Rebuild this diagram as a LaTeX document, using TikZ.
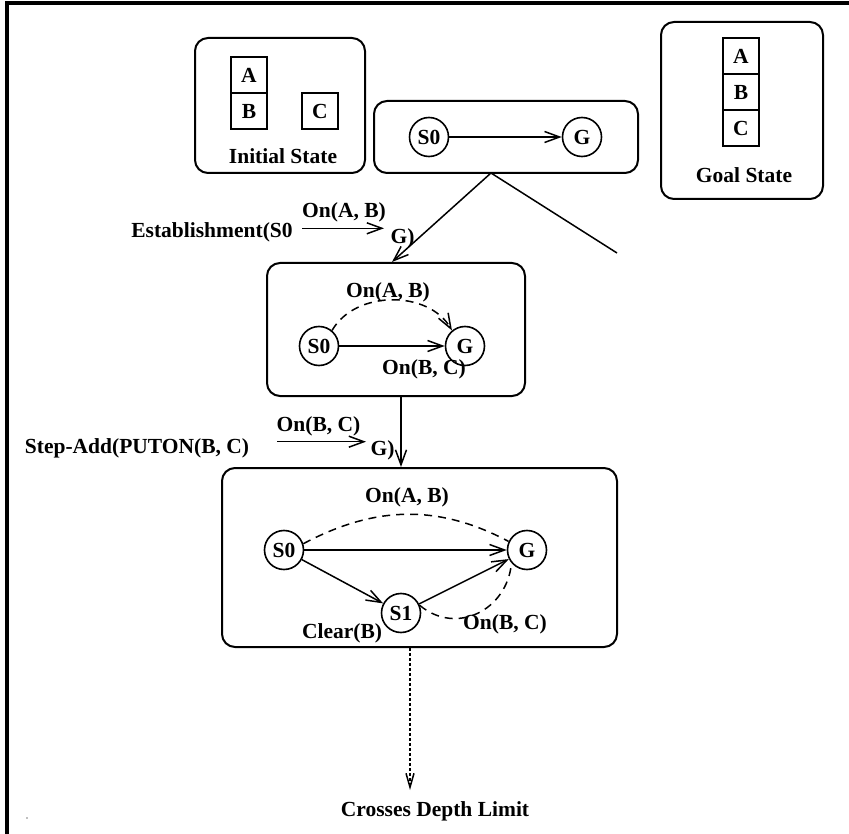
\documentclass[tikz,border=0pt]{standalone}
\usepackage{fontspec}
\setmainfont{Liberation Serif}
\usetikzlibrary{arrows.meta}
\begin{document}
\begin{tikzpicture}[x=1pt,y=1pt,
  every node/.style={font=\fontsize{21.5}{25}\selectfont\bfseries, inner sep=0pt},
  panel/.style={draw, rounded corners=13pt, line width=2pt},
  block/.style={draw, line width=1.6pt, minimum width=36pt, minimum height=36pt},
  state/.style={draw, circle, line width=1.6pt, minimum size=39pt},
  wire/.style={line width=1.5pt},
  headed/.style={wire, -{Straight Barb[length=15pt,width=11pt,line width=1.5pt]}},
  hint/.style={dash pattern=on 8pt off 6pt},
  faint/.style={dash pattern=on 2.5pt off 2.5pt}
]
\useasboundingbox (0,0) rectangle (849,-834);

% page frame: left and top rules
\draw[line width=3.4pt] (7,-834) -- (7,-3) -- (849,-3);
\fill[gray] (27,-818) circle (0.8pt);

% ---- initial state ----
\node[panel, minimum width=170pt, minimum height=135pt] (init) at (280,-105.5) {};
\node[block] (ia) at (249,-75) {A};
\node[block] (ib) at (249,-111) {B};
\node[block] (ic) at (320,-111) {C};
\node (initlbl) at (283,-156) {Initial State};

% ---- goal state ----
\node[panel, minimum width=162pt, minimum height=177pt] (goal) at (742,-110.5) {};
\node[block] (ga) at (741,-56) {A};
\node[block] (gb) at (741,-92) {B};
\node[block] (gc) at (741,-128) {C};
\node (goallbl) at (744,-175) {Goal State};

% ---- root plan ----
\node[panel, minimum width=264pt, minimum height=72pt] (p0) at (506,-137) {};
\node[state] (p0s) at (429,-137) {S0};
\node[state] (p0g) at (582,-137) {G};
\draw[headed] (p0s) -- (p0g);

% ---- plan after establishment ----
\node[panel, minimum width=258pt, minimum height=133pt] (p1) at (396,-329.5) {};
\node[state] (p1s) at (319,-346) {S0};
\node[state] (p1g) at (465,-346) {G};
\draw[headed] (p1s) -- (p1g);
\draw[headed, hint] (p1s.50) to[out=60, in=120] (p1g.130);
\node (p1ab) at (388,-292) {On(A, B)};
\node (p1bc) at (424,-369) {On(B, C)};

% ---- plan after step addition ----
\node[panel, minimum width=395pt, minimum height=179pt] (p2) at (419.5,-557.5) {};
\node[state] (p2s) at (284,-550) {S0};
\node[state] (p2g) at (527,-550) {G};
\node[state] (p2t) at (401,-613) {S1};
\draw[headed] (p2s) -- (p2g);
\draw[headed] (p2s) -- (p2t);
\draw[headed] (p2t) -- (p2g);
\draw[wire, hint] (p2s.18) to[out=28, in=152] (p2g.155);
\draw[wire, hint] (p2t.22) to[out=-40, in=-95, looseness=1.2] (p2g.-140);
\node (p2ab) at (407,-497) {On(A, B)};
\node (p2cl) at (342,-633) {Clear(B)};
\node (p2bc) at (505,-624) {On(B, C)};

% ---- search tree edges ----
\coordinate (fork) at (491,-173);
\coordinate (other) at (617,-253);
\draw[headed] (fork) -- (p1.north -| 392,0);
\draw[wire] (fork) -- (other);
\draw[headed] (p1.south -| 401,0) -- (p2.north -| 401,0);
\coordinate (limit) at (410,-790);
\draw[wire, faint, -{Straight Barb[length=14pt,width=8pt,line width=1.5pt]}] (p2.south -| 410,0) -- (limit);
\node (depth) at (435,-811) {Crosses Depth Limit};

% ---- edge labels ----
\node (est) at (212,-232.5) {Establishment(S0};
\coordinate (e1) at (302,-228.3);
\coordinate (e2) at (384,-228.3);
\draw[headed] (e1) -- (e2);
\node (estc) at (344,-212.5) {On(A, B)};
\node (estg) at (402.5,-238) {G)};

\node (add) at (137,-448) {Step-Add(PUTON(B, C)};
\coordinate (s1) at (277,-441.7);
\coordinate (s2) at (366,-441.7);
\draw[headed] (s1) -- (s2);
\node (addc) at (318.5,-426.7) {On(B, C)};
\node (addg) at (382.5,-450) {G)};
\end{tikzpicture}
\end{document}
